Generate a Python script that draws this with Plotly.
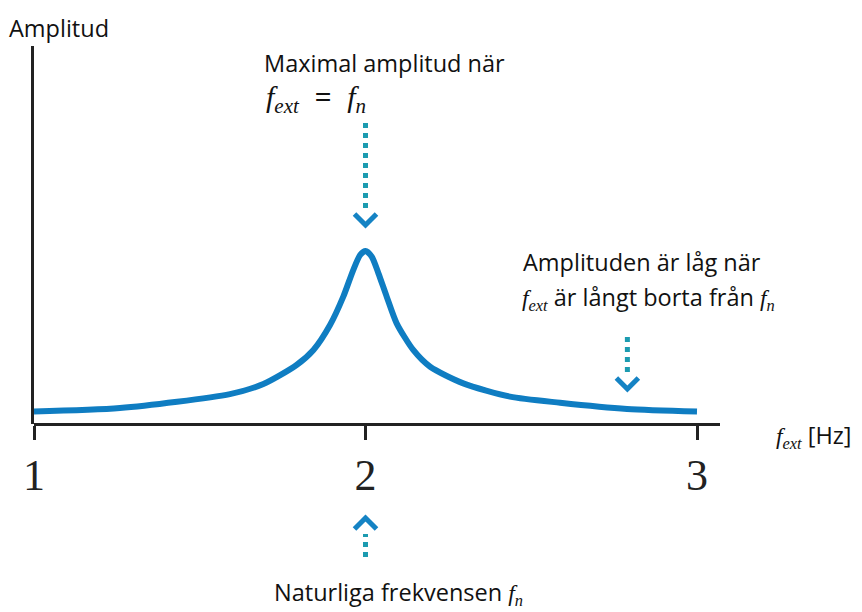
import plotly.graph_objects as go

# Resonance curve: driving frequency [Hz] and relative amplitude
freq = [1.000, 1.259, 1.591, 1.692, 1.792, 1.843, 1.893, 1.933, 1.963, 1.984,
        2.000, 2.019, 2.039, 2.064, 2.094, 2.144, 2.195, 2.295, 2.436, 2.587,
        2.789, 3.000]
amplitude = [0.072, 0.092, 0.173, 0.231, 0.341, 0.428, 0.572, 0.736, 0.890, 0.977,
             1.000, 0.967, 0.871, 0.736, 0.582, 0.428, 0.331, 0.235, 0.158, 0.123,
             0.087, 0.072]

tick_vals = [1, 2, 3]
tick_text = ["1", "2", "3"]

f_natural = 2.0      # natural frequency f_n
f_far = 2.79         # a frequency far from f_n

W, H = 862, 612
X0_PX, X_UNIT_PX = 34, 331.5      # pixel of f=1 and pixels per Hz
Y0_PX, Y_UNIT_PX = 424, 173       # pixel of zero amplitude, pixels per unit
X_END_PX, Y_TOP_PX = 720, 46

CURVE = "#0f7dc2"
DOTS = "#1c9bb0"
CHEV = "#1583c4"
AX = "#222222"
SANS = "Open Sans"
SERIF = "Liberation Serif"


def fx_px(f):
    return X0_PX + (f - 1) * X_UNIT_PX


def paper_x(px):
    return px / W


def paper_y(py):
    return 1 - py / H


def it(s):
    return f'<span style="font-family:{SERIF};font-style:italic">{s}</span>'


def sym(base, sub):
    return it(base) + "<sub>" + it(sub) + "</sub>"


fig = go.Figure()
fig.add_trace(go.Scatter(
    x=freq, y=amplitude, mode="lines",
    line=dict(color=CURVE, width=6, shape="spline", smoothing=0.7),
    hoverinfo="skip", showlegend=False,
))

fig.update_layout(
    width=W, height=H,
    margin=dict(l=0, r=0, t=0, b=0, autoexpand=False),
    paper_bgcolor="white", plot_bgcolor="white",
    xaxis=dict(
        domain=[paper_x(X0_PX), paper_x(X_END_PX)],
        range=[1, 1 + (X_END_PX - X0_PX) / X_UNIT_PX],
        anchor="free", position=paper_y(Y0_PX),
        automargin=False,
        showline=True, linecolor=AX, linewidth=3,
        showgrid=False, zeroline=False,
        tickmode="array", tickvals=tick_vals, ticktext=tick_text,
        ticks="outside", ticklen=14, tickwidth=3, tickcolor=AX,
        tickfont=dict(family=SERIF, size=44, color=AX),
        ticklabelstandoff=-3,
        fixedrange=True,
    ),
    yaxis=dict(
        domain=[paper_y(Y0_PX), paper_y(Y_TOP_PX)],
        range=[0, (Y0_PX - Y_TOP_PX) / Y_UNIT_PX],
        anchor="x", automargin=False,
        showline=True, linecolor=AX, linewidth=3,
        showgrid=False, zeroline=False, showticklabels=False, ticks="",
        fixedrange=True,
    ),
)


def dotted_arrow(f, py_start, py_end, tip_py, arm_py):
    """Vertical dotted shaft plus a chevron head, in pixel rows."""
    xc = fx_px(f)
    fig.add_shape(type="line", xref="paper", yref="paper",
                  x0=paper_x(xc), x1=paper_x(xc),
                  y0=paper_y(py_start), y1=paper_y(py_end),
                  line=dict(color=DOTS, width=5, dash="5px,5px"))
    path = (f"M {paper_x(xc - 11)},{paper_y(arm_py)} "
            f"L {paper_x(xc)},{paper_y(tip_py)} "
            f"L {paper_x(xc + 11)},{paper_y(arm_py)}")
    fig.add_shape(type="path", xref="paper", yref="paper", path=path,
                  line=dict(color=CHEV, width=5))


dotted_arrow(f_natural, 123, 210, 225, 214)
dotted_arrow(f_far, 337, 377, 389, 378)
dotted_arrow(f_natural, 557, 534, 518, 529)


def label(text, px, py, size=23.5, xanchor="left"):
    fig.add_annotation(text=text, xref="paper", yref="paper",
                       x=paper_x(px), y=paper_y(py),
                       xanchor=xanchor, yanchor="middle", showarrow=False,
                       font=dict(family=SANS, size=size, color="#111111"),
                       align="left")


label("Amplitud", 7, 28)
label("Maximal amplitud när", 262, 63)
label(sym("f", "ext") + "&nbsp;&nbsp;=&nbsp;&nbsp;" + it("f") + "<sub>" + it("n") + "</sub>",
      264, 96, size=30)
label("Amplituden är låg när", 521, 262)
label(sym("f", "ext") + " är långt borta från " + sym("f", "n"), 520, 298)
label(sym("f", "ext") + " [Hz]", 774, 436)
label("Naturliga frekvensen " + sym("f", "n"), 398, 593, xanchor="center")

fig.write_html("out.html")
